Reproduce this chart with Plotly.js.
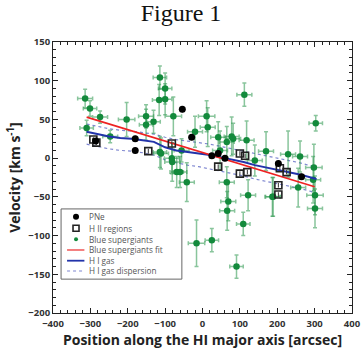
<!DOCTYPE html>
<html>
<head>
<meta charset="utf-8">
<script src="https://cdn.plot.ly/plotly-3.0.1.min.js"></script>
<style>html,body{margin:0;padding:0;background:#fff;}#chart{width:362px;height:352px;}</style>
</head>
<body>
<div id="chart"></div>
<script>
// Blue supergiants
const bsgX = [-314,-301,-274,-310,-247,-203,-151,-131,-151,-114,-100,-116,-100,-78,-111,-81,-69,11,14,-20,112,78,118,65,303,170,229,261,298,47,-60,-42,65,69,66,122,109,-16,25,91,187,256,301,301,296,-114,-82,-56,42,82,140,189];
const bsgY = [77,64,53,39,28,50,54,47,43,104,90,75,76,54,6,-5,-18,54,40,34,82,28,23,21,45,9,5,2,-12,10,-18,-31,-31,-56,-68,-48,-85,-110,-106,-140,-50,-38,-48,-65,-28,8,0,10,27,25,-3,-50];
const bsgEx = [20,18,20,18,20,22,20,18,18,18,18,18,18,22,20,20,18,22,20,20,20,20,20,20,18,20,20,20,22,20,18,20,20,20,20,20,18,22,18,18,20,20,22,20,20,18,20,20,20,20,20,20];
const bsgEy = [12,10,8,10,8,22,15,15,20,15,20,20,20,25,20,25,20,20,25,20,15,25,25,20,10,25,30,20,30,25,20,25,20,25,25,20,15,30,15,15,25,25,25,25,30,20,20,15,20,20,20,25];
// PNe
const pneX = [-286,-180,-180,-54,-29,25,42,60,265,203];
const pneY = [22,25,10,63,27,3,6,0,-24,-7];
// H II regions
const hiiX = [-292,-284,-145,-82,100,114,42,100,120,207,225,203,203];
const hiiY = [24,20,9,19,6,3,-11,-20,-18,-13,-18,-35,-47];
// Blue supergiants fit
const fitX = [-310,300];
const fitY = [53,-37];
// H I gas and dispersion
const hiX = [-310,-280,-250,-220,-190,-160,-130,-100,-70,-40,-10,20,50,80,110,140,170,200,230,260,290,305];
const hiY = [34,31,28,26,25,23,21,14,10,8,6,4,1,-2,-5,-9,-12,-15,-18,-21,-25,-27];
const hiUp = [44,41,38,36,35,33,31,27,24,22,20,18,15,12,9,6,3,0,-3,-6,-10,-12];
const hiLo = [18,15,12,10,9,7,4,-2,-6,-9,-11,-14,-17,-20,-23,-27,-30,-33,-36,-39,-43,-45];
// Legend labels
const legendLabels = ['PNe','H II regions','Blue supergiants','Blue supergiants fit','H I gas','H I gas dispersion'];

const green = '#138a3c';
const greenErr = 'rgba(40,150,75,0.55)';
const blue = '#2233aa';
const dispBlue = '#7e86d0';

const traces = [
  {x: hiX, y: hiUp, mode:'lines', line:{color:dispBlue, width:1.2, dash:'dot'}, hoverinfo:'skip'},
  {x: hiX, y: hiLo, mode:'lines', line:{color:dispBlue, width:1.2, dash:'dot'}, hoverinfo:'skip'},
  {x: bsgX, y: bsgY, mode:'markers', marker:{color:green, size:6.5},
   error_x:{type:'data', array:bsgEx, color:greenErr, thickness:1.5, width:2},
   error_y:{type:'data', array:bsgEy, color:greenErr, thickness:1.5, width:2}},
  {x: hiX, y: hiY, mode:'lines', line:{color:blue, width:2}},
  {x: fitX, y: fitY, mode:'lines', line:{color:'#ee2222', width:1.6}},
  {x: hiiX, y: hiiY, mode:'markers', marker:{symbol:'square-open', color:'#222', size:7, line:{width:1.6, color:'#222'}},
   error_y:{type:'constant', value:3, color:'#333', thickness:1, width:0}},
  {x: pneX, y: pneY, mode:'markers', marker:{color:'#000', size:7},
   error_y:{type:'constant', value:4, color:'#333', thickness:1, width:0}}
];

// legend geometry (plot-area fractions)
const legY = [0.355,0.3125,0.272,0.2325,0.193,0.155];
traces.push({x:[0.077], y:[legY[0]], xaxis:'x2', yaxis:'y2', mode:'markers', marker:{color:'#000', size:6}});
traces.push({x:[0.077], y:[legY[1]], xaxis:'x2', yaxis:'y2', mode:'markers', marker:{symbol:'square-open', color:'#222', size:6, line:{width:1.6, color:'#222'}}});
traces.push({x:[0.077], y:[legY[2]], xaxis:'x2', yaxis:'y2', mode:'markers', marker:{color:green, size:4}});
traces.push({x:[0.047,0.105], y:[legY[3],legY[3]], xaxis:'x2', yaxis:'y2', mode:'lines', line:{color:'#f05555', width:1.5}});
traces.push({x:[0.047,0.105], y:[legY[4],legY[4]], xaxis:'x2', yaxis:'y2', mode:'lines', line:{color:blue, width:1.8}});
traces.push({x:[0.047,0.105], y:[legY[5],legY[5]], xaxis:'x2', yaxis:'y2', mode:'lines', line:{color:dispBlue, width:1.2, dash:'dot'}});

const annotations = legendLabels.map((t,i)=>({xref:'paper', yref:'paper', x:0.117, y:legY[i], xanchor:'left', yanchor:'middle', text:t, showarrow:false, borderpad:0, font:{family:'Open Sans, sans-serif', size:8.2, color:'#555'}}));

const axisCommon = {
  showgrid:false, zeroline:false, showline:true, linecolor:'#222', linewidth:1,
  mirror:'allticks', ticks:'inside', ticklen:5, tickwidth:1, tickcolor:'#222',
  tickfont:{family:'Open Sans, sans-serif', size:9.5, color:'#333', weight:'bold'}
};

const layout = {
  width:362, height:352,
  margin:{l:53, r:10, t:42, b:39},
  paper_bgcolor:'#fff', plot_bgcolor:'#fff',
  showlegend:false,
  title:{text:'Figure 1', font:{family:'Liberation Serif, serif', size:24, color:'#111'}, x:0.5, xref:'container', y:0.963, yref:'container', yanchor:'middle'},
  xaxis: Object.assign({}, axisCommon, {range:[-400,400], dtick:100, tick0:-400, ticklabelstandoff:2,
    minor:{dtick:20, ticks:'inside', ticklen:3, tickcolor:'#222'},
    title:{text:'Position along the HI major axis [arcsec]', font:{family:'Open Sans, sans-serif', size:14, color:'#222', weight:'bold'}, standoff:1}}),
  yaxis: Object.assign({}, axisCommon, {range:[-200,150], dtick:50, tick0:-200,
    minor:{dtick:10, ticks:'inside', ticklen:3, tickcolor:'#222'},
    title:{text:'Velocity [km s<sup>-1</sup>]', font:{family:'Open Sans, sans-serif', size:14, color:'#222', weight:'bold'}, standoff:4}}),
  xaxis2:{overlaying:'x', range:[0,1], visible:false, fixedrange:true},
  yaxis2:{overlaying:'y', range:[0,1], visible:false, fixedrange:true},
  shapes:[{type:'rect', xref:'paper', yref:'paper', x0:0.027, x1:0.431, y0:0.125, y1:0.384, line:{color:'#666', width:1}, fillcolor:'#fff', layer:'below'}],
  annotations: annotations
};

Plotly.newPlot('chart', traces, layout, {staticPlot:true, displayModeBar:false});
</script>
</body>
</html>
